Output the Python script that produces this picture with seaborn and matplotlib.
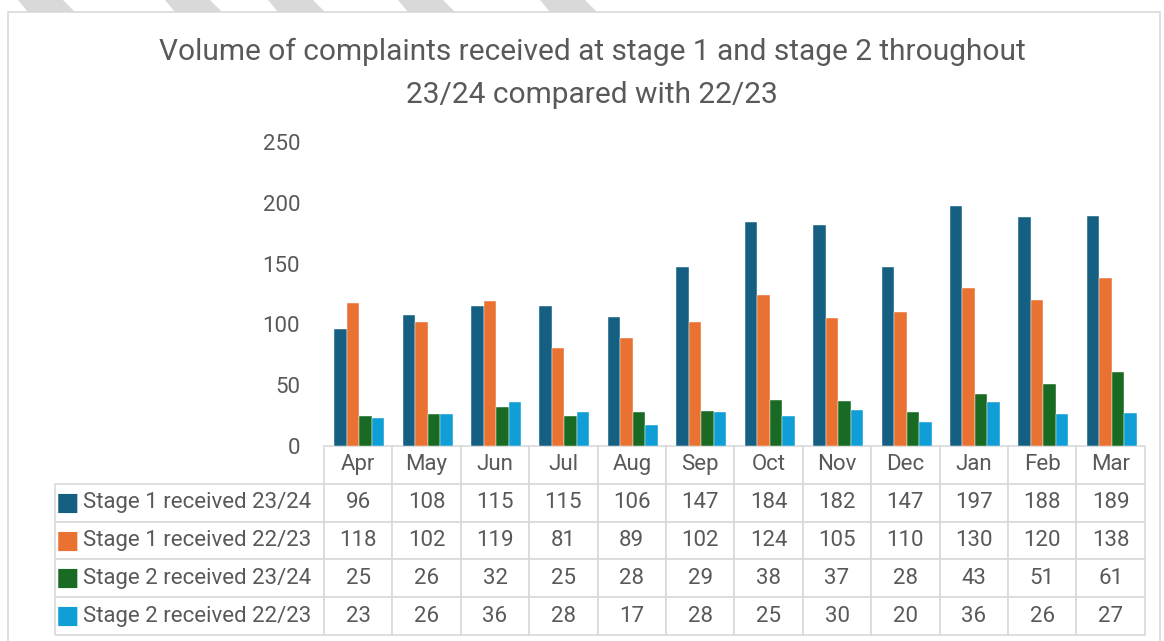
"""
Complaints received at stage 1 and stage 2, 23/24 vs 22/23, with data table.
"""
import seaborn as sns
import pandas as pd
import matplotlib.pyplot as plt
from matplotlib.patches import Rectangle, Polygon

months = ["Apr", "May", "Jun", "Jul", "Aug", "Sep", "Oct", "Nov", "Dec", "Jan", "Feb", "Mar"]
series_names = ["Stage 1 received 23/24", "Stage 1 received 22/23",
                "Stage 2 received 23/24", "Stage 2 received 22/23"]
stage1_2324 = [96, 108, 115, 115, 106, 147, 184, 182, 147, 197, 188, 189]
stage1_2223 = [118, 102, 119, 81, 89, 102, 124, 105, 110, 130, 120, 138]
stage2_2324 = [25, 26, 32, 25, 28, 29, 38, 37, 28, 43, 51, 61]
stage2_2223 = [23, 26, 36, 28, 17, 28, 25, 30, 20, 36, 26, 27]
colors = ["#156082", "#E97132", "#196B24", "#0F9ED5"]

TEXT = "#595959"
GRID = "#d9d9d9"


def build_frame():
    rows = []
    for name, vals in zip(series_names, [stage1_2324, stage1_2223, stage2_2324, stage2_2223]):
        for m, v in zip(months, vals):
            rows.append({"month": m, "series": name, "value": v})
    return pd.DataFrame(rows)


def main():
    df = build_frame()
    sns.set_theme(style="white")
    plt.rcParams["font.family"] = ["Roboto", "DejaVu Sans"]

    W, H = 1164, 641
    fig = plt.figure(figsize=(W / 100, H / 100), dpi=100)

    # Decorative stripes at the top and the chart frame.
    for x0 in [18, 165, 268, 398, 540]:
        fig.patches.append(Polygon([(x0 / W, 1), ((x0 + 45) / W, 1), ((x0 + 57) / W, 1 - 12 / H),
                                    ((x0 + 10) / W, 1 - 12 / H)], closed=True,
                                   transform=fig.transFigure, facecolor=GRID, edgecolor="none"))
    fig.patches.append(Rectangle((8 / W, -0.05), 1152 / W, 1.05 - 12 / H, transform=fig.transFigure,
                                 fill=False, edgecolor=GRID, linewidth=1.2))

    ax = fig.add_axes([325 / W, 195 / H, 821 / W, 304 / H])
    sns.barplot(data=df, x="month", y="value", hue="series", palette=colors,
                width=0.73, gap=0, saturation=1, legend=False, ax=ax,
                edgecolor="white", linewidth=0.3)

    ax.set_ylim(0, 250)
    ax.set_yticks(range(0, 251, 50))
    ax.set_xlabel("")
    ax.set_ylabel("")
    ax.set_xticks([])
    ax.tick_params(axis="y", length=0, pad=18, labelsize=16, labelcolor=TEXT)
    sns.despine(ax=ax, left=True, bottom=True)

    fig.text(592 / W, 1 - 52 / H, "Volume of complaints received at stage 1 and stage 2 throughout",
             ha="center", va="center", fontsize=21.5, color=TEXT)
    fig.text(592 / W, 1 - 95 / H, "23/24 compared with 22/23",
             ha="center", va="center", fontsize=21.5, color=TEXT)

    # Data table under the bars.
    cell_text = []
    for name, vals in zip(series_names, [stage1_2324, stage1_2223, stage2_2324, stage2_2223]):
        cell_text.append(["■", name] + [str(v) for v in vals])
    col_labels = ["", ""] + months
    widths = [26, 243] + [68.4] * 12
    total = sum(widths)
    tbl = ax.table(cellText=cell_text, colLabels=col_labels,
                   colWidths=[w / total for w in widths], cellLoc="center",
                   bbox=[(55 - 325) / 821, -189 / 304, total / 821, 189 / 304])
    tbl.auto_set_font_size(False)
    tbl.set_fontsize(16)
    for (r, c), cell in tbl.get_celld().items():
        cell.set_edgecolor(GRID)
        cell.set_linewidth(1.2)
        cell.get_text().set_color(TEXT)
        if r == 0 and c < 2:
            cell.visible_edges = ""
        elif c == 0:
            cell.visible_edges = "BLT"
            cell.get_text().set_color(colors[r - 1])
            cell.get_text().set_fontsize(18)
        elif c == 1:
            cell.visible_edges = "BRT"
            cell._loc = "left"
            cell.PAD = 0.01
            cell.get_text().set_ha("left")

    plt.savefig("out.png", dpi=100)


if __name__ == "__main__":
    main()
